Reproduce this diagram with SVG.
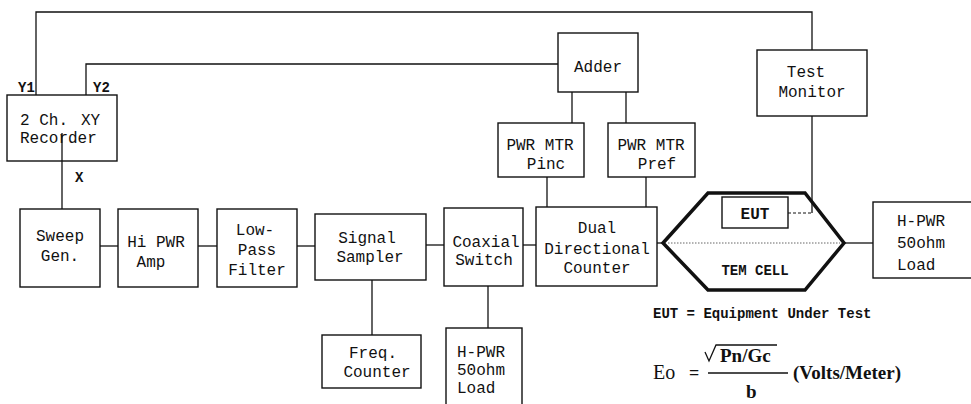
<svg xmlns="http://www.w3.org/2000/svg" width="971" height="404" viewBox="0 0 971 404">
<style>
.b{fill:#fff;stroke:#111;stroke-width:1.4}
.t{font-family:"Liberation Mono",monospace;font-size:16px;fill:#111;text-anchor:middle}
.l{font-family:"Liberation Mono",monospace;font-size:14px;font-weight:bold;fill:#111}
.c{fill:none;stroke:#111;stroke-width:1.3}
.f{font-family:"Liberation Serif",serif;fill:#111}
</style>
<rect width="971" height="404" fill="#fff"/>
<g id="connectors" class="c">
<polyline points="36,95 36,12 812,12 812,50"/>
<polyline points="86,95 86,64 558,64"/>
<line x1="62" y1="133" x2="62" y2="209"/>
<line x1="100" y1="246" x2="118" y2="246"/>
<line x1="198" y1="246" x2="217" y2="246"/>
<line x1="297" y1="246" x2="315" y2="246"/>
<line x1="426" y1="245" x2="444" y2="245"/>
<line x1="523" y1="245" x2="536" y2="245"/>
<line x1="657" y1="243" x2="663" y2="243"/>
<line x1="844" y1="243" x2="873" y2="243"/>
<line x1="372" y1="280" x2="372" y2="335"/>
<line x1="488" y1="286" x2="488" y2="328"/>
<line x1="572" y1="92" x2="572" y2="123"/>
<line x1="626" y1="92" x2="626" y2="123"/>
<line x1="547" y1="177" x2="547" y2="207"/>
<line x1="646" y1="177" x2="646" y2="207"/>
<line x1="812" y1="116" x2="812" y2="213"/>
<line x1="788" y1="213" x2="812" y2="213" stroke-dasharray="3,2" stroke-width="1"/>
</g>
<g id="recorder">
<rect class="b" x="7" y="95" width="110" height="66"/>
<text class="t" style="text-anchor:start" x="20" y="125">2 Ch.<tspan x="81">XY</tspan></text>
<text class="t" style="text-anchor:start" x="20" y="143">Recorder</text>
</g>
<line class="c" x1="62" y1="133" x2="62" y2="161"/>
<g id="labels">
<text class="l" x="18" y="92">Y1</text>
<text class="l" x="93" y="92">Y2</text>
<text class="l" x="75" y="182">X</text>
</g>
<g id="sweep">
<rect class="b" x="20" y="209" width="80" height="78"/>
<text class="t" x="60" y="241">Sweep</text>
<text class="t" x="60" y="261">Gen.</text>
</g>
<g id="amp">
<rect class="b" x="118" y="209" width="80" height="78"/>
<text class="t" x="156" y="247">Hi PWR</text>
<text class="t" x="151" y="267">Amp</text>
</g>
<g id="filter">
<rect class="b" x="217" y="209" width="80" height="78"/>
<text class="t" x="255" y="235">Low-</text>
<text class="t" x="257" y="255">Pass</text>
<text class="t" x="257" y="275">Filter</text>
</g>
<g id="sampler">
<rect class="b" x="315" y="214" width="111" height="66"/>
<text class="t" x="367" y="243">Signal</text>
<text class="t" x="370" y="262">Sampler</text>
</g>
<g id="freq">
<rect class="b" x="322" y="335" width="99" height="53"/>
<text class="t" x="373" y="358">Freq.</text>
<text class="t" x="377" y="377">Counter</text>
</g>
<g id="coax">
<rect class="b" x="444" y="208" width="79" height="78"/>
<text class="t" x="486" y="247">Coaxial</text>
<text class="t" x="484" y="265">Switch</text>
</g>
<g id="load1">
<rect class="b" x="446" y="328" width="76" height="90"/>
<text class="t" style="text-anchor:start" x="457" y="357">H-PWR</text>
<text class="t" style="text-anchor:start" x="457" y="375">50ohm</text>
<text class="t" style="text-anchor:start" x="457" y="393">Load</text>
</g>
<g id="dual">
<rect class="b" x="536" y="207" width="121" height="79"/>
<text class="t" x="597" y="233">Dual</text>
<text class="t" x="597" y="254">Directional</text>
<text class="t" x="597" y="273">Counter</text>
</g>
<g id="adder">
<rect class="b" x="558" y="33" width="80" height="59"/>
<text class="t" x="598" y="72">Adder</text>
</g>
<g id="pinc">
<rect class="b" x="498" y="123" width="86" height="54"/>
<text class="t" x="540" y="150">PWR MTR</text>
<text class="t" x="546" y="169">Pinc</text>
</g>
<g id="pref">
<rect class="b" x="608" y="123" width="87" height="54"/>
<text class="t" x="651" y="150">PWR MTR</text>
<text class="t" x="657" y="169">Pref</text>
</g>
<g id="monitor">
<rect class="b" x="757" y="50" width="110" height="66"/>
<text class="t" x="806" y="77">Test</text>
<text class="t" x="812" y="97">Monitor</text>
</g>
<g id="temcell">
<polygon points="663,243 708,193 805,193 844,243 805,290 708,290" fill="none" stroke="#111" stroke-width="3.5" stroke-linejoin="miter"/>
<line x1="668" y1="243" x2="840" y2="243" stroke="#666" stroke-width="1" stroke-dasharray="1.5,1.5"/>
<rect class="b" x="722" y="197" width="66" height="31"/>
<text class="t" style="font-weight:bold" x="755" y="219">EUT</text>
<text class="l" style="text-anchor:middle" x="755" y="275">TEM CELL</text>
</g>
<g id="load2">
<rect class="b" x="873" y="202" width="110" height="76"/>
<text class="t" style="text-anchor:start" x="897" y="226">H-PWR</text>
<text class="t" style="text-anchor:start" x="897" y="248">50ohm</text>
<text class="t" style="text-anchor:start" x="897" y="270">Load</text>
</g>
<g id="legend">
<text class="l" x="653" y="318">EUT = Equipment Under Test</text>
<text class="f" x="653" y="379" font-size="20">Eo</text>
<text class="f" x="689" y="379" font-size="18" font-weight="bold">=</text>
<polyline points="705,352 709,361 716,345 777,345" fill="none" stroke="#111" stroke-width="1.3"/>
<text class="f" x="720" y="362" font-size="19" font-weight="bold">Pn/Gc</text>
<line x1="708" y1="373" x2="788" y2="373" stroke="#111" stroke-width="1.3"/>
<text class="f" x="746" y="398" font-size="19" font-weight="bold">b</text>
<text class="f" x="793" y="379" font-size="19" font-weight="bold">(Volts/Meter)</text>
</g>
</svg>
